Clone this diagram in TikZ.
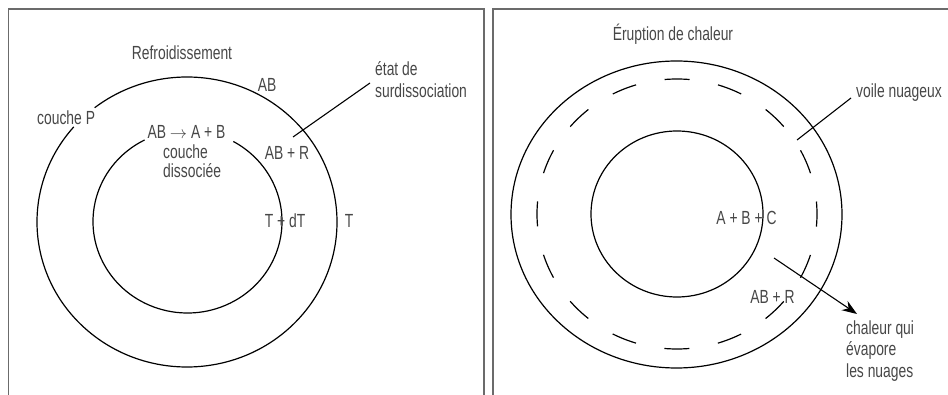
\documentclass[tikz,border=0pt]{standalone}
\usepackage{fontspec}
\setmainfont{Liberation Sans}[FakeStretch=0.73]
\usetikzlibrary{arrows.meta}
\definecolor{txtgray}{gray}{0.28}
\definecolor{framegray}{gray}{0.42}
\begin{document}
\begin{tikzpicture}[x=1pt,y=-1pt,
  lbl/.style={font=\fontsize{19}{21.5}\selectfont, text=txtgray, inner sep=0pt},
  ring/.style={line width=1.2pt, draw=black},
  framing/.style={line width=1.4pt, draw=framegray},
  lead/.style={line width=1.1pt, draw=black}]
\useasboundingbox (0,0) rectangle (948,395);

% panel frames
\draw[framing] (8.5,395) -- (8.5,9) -- (484,9) -- (484,395);
\draw[framing] (493,395) -- (493,9) -- (948,9);

% ---------- left panel ----------
\coordinate (Lc) at (187,222);
\coordinate (Li) at (187.5,221.5);
\draw[ring] ([shift={(139:150pt and 145pt)}]Lc) arc[start angle=139, end angle=488, x radius=150pt, y radius=145pt];
\draw[ring] ([shift={(117:94.5pt and 91.5pt)}]Li) arc[start angle=117, end angle=421, x radius=94.5pt, y radius=91.5pt];

\node[lbl] (refr) at (182,53) {Refroidissement};
\node[lbl] (ab) at (267,85) {AB};
\node[lbl, align=left, anchor=west] (etat) at (375,79.5) {état de\\surdissociation};
\node[lbl, anchor=west] (coucheP) at (37,118) {couche P};
\node[lbl] (react) at (186.5,132) {AB $\rightarrow$ A + B};
\node[lbl, align=left, anchor=west, font=\fontsize{19}{18.5}\selectfont] (cdis) at (163,161) {couche\\dissociée};
\node[lbl] (abr) at (287,153) {AB + R};
\node[lbl] (tdt) at (285,221) {T + dT};
\node[lbl] (tout) at (349,221) {T};

\coordinate (l1) at (293,137);
\coordinate (l2) at (370,83);
\draw[lead] (l1) -- (l2);

% ---------- right panel ----------
\coordinate (Rc) at (676.5,214.5);
\coordinate (Rd) at (677,214);
\draw[ring] (Rc) ellipse[x radius=165.5pt, y radius=153.5pt];
\draw[ring] (Rd) ellipse[x radius=86pt, y radius=83pt];
\draw[ring, dash pattern=on 25pt off 29pt, dash phase=12.5pt] (Rd) ellipse[x radius=140pt, y radius=135pt];

\node[lbl] (erup) at (673,34) {Éruption de chaleur};
\node[lbl, anchor=west] (voile) at (856,93) {voile nuageux};
\node[lbl] (abc) at (746.5,218) {A + B + C};
\node[lbl] (abr2) at (772.5,297) {AB + R};
\node[lbl, align=left, anchor=west] (chal) at (846,351) {chaleur qui\\évapore\\les nuages};

\coordinate (v1) at (797,140);
\coordinate (v2) at (851,98);
\draw[lead] (v1) -- (v2);

\coordinate (a1) at (774,258);
\coordinate (a2) at (857,314);
\draw[lead, -{Stealth[length=15pt,width=11pt]}] (a1) -- (a2);
\end{tikzpicture}
\end{document}
